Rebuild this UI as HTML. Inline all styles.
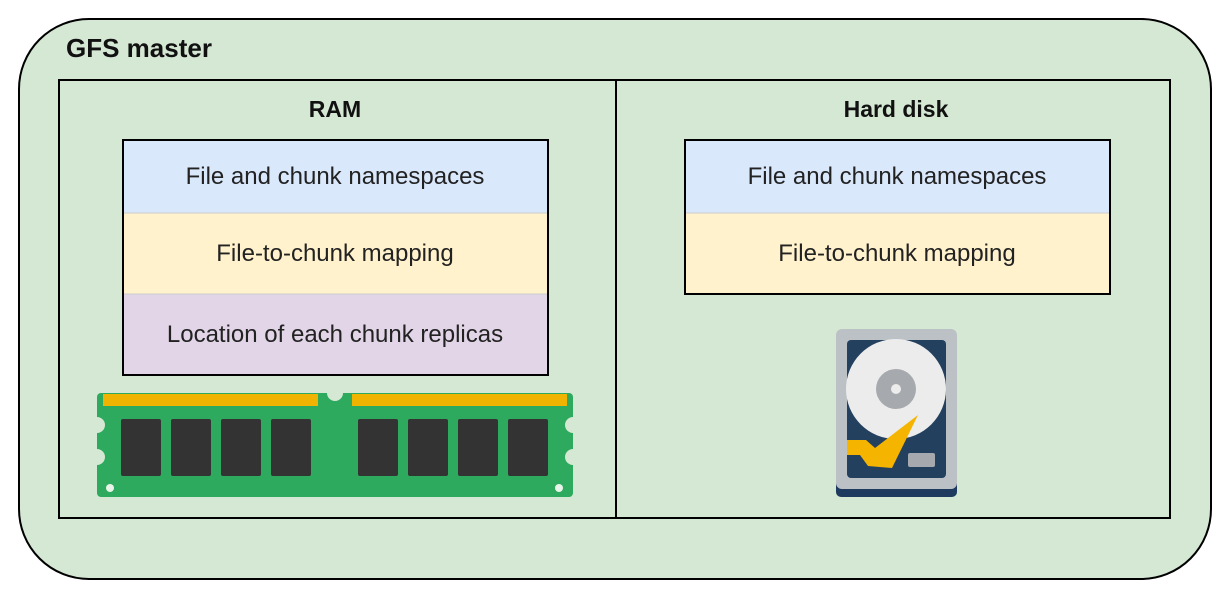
<!DOCTYPE html>
<html><head><meta charset="utf-8"><style>html,body{margin:0;padding:0;background:#fff}svg{display:block}text{font-family:"Liberation Sans",Arial,sans-serif}</style></head>
<body>
<svg width="1229" height="598" viewBox="0 0 1229 598" xmlns="http://www.w3.org/2000/svg">
<rect x="19" y="19" width="1192" height="560" rx="70" fill="#d5e8d4" stroke="#000" stroke-width="2"/>
<text x="66" y="57" font-size="26" font-weight="bold" fill="#111">GFS master</text>
<rect x="59" y="80" width="1111" height="438" fill="none" stroke="#000" stroke-width="2"/>
<line x1="616" y1="80" x2="616" y2="518" stroke="#000" stroke-width="2"/>
<text x="335" y="117" font-size="23" font-weight="bold" text-anchor="middle" fill="#111">RAM</text>
<text x="896" y="117" font-size="23" font-weight="bold" text-anchor="middle" fill="#111">Hard disk</text>
<g font-size="24" text-anchor="middle" fill="#222">
<rect x="123" y="140" width="425" height="73" fill="#dae8fc"/>
<rect x="123" y="213" width="425" height="81" fill="#fff2cc"/>
<rect x="123" y="294" width="425" height="81" fill="#e1d5e7"/>
<line x1="123" y1="213" x2="548" y2="213" stroke="#ccc"/>
<line x1="123" y1="294" x2="548" y2="294" stroke="#ccc"/>
<rect x="123" y="140" width="425" height="235" fill="none" stroke="#000" stroke-width="2"/>
<text x="335" y="184">File and chunk namespaces</text>
<text x="335" y="261">File-to-chunk mapping</text>
<text x="335" y="342">Location of each chunk replicas</text>
<rect x="685" y="140" width="425" height="73" fill="#dae8fc"/>
<rect x="685" y="213" width="425" height="81" fill="#fff2cc"/>
<line x1="685" y1="213" x2="1110" y2="213" stroke="#ccc"/>
<rect x="685" y="140" width="425" height="154" fill="none" stroke="#000" stroke-width="2"/>
<text x="897" y="184">File and chunk namespaces</text>
<text x="897" y="261">File-to-chunk mapping</text>
</g>
<!-- RAM stick -->
<rect x="97" y="393" width="476" height="104" rx="4" fill="#2eaa5e"/>
<circle cx="97" cy="425" r="8" fill="#d5e8d4"/><circle cx="97" cy="457" r="8" fill="#d5e8d4"/>
<circle cx="573" cy="425" r="8" fill="#d5e8d4"/><circle cx="573" cy="457" r="8" fill="#d5e8d4"/>
<circle cx="335" cy="393" r="8" fill="#d5e8d4"/>
<rect x="103" y="394" width="215" height="12" fill="#f0b400"/>
<rect x="352" y="394" width="215" height="12" fill="#f0b400"/>
<circle cx="110" cy="488" r="4" fill="#e8f3ea"/><circle cx="559" cy="488" r="4" fill="#e8f3ea"/>
<g fill="#333">
<rect x="121" y="419" width="40" height="57" rx="2"/><rect x="171" y="419" width="40" height="57" rx="2"/>
<rect x="221" y="419" width="40" height="57" rx="2"/><rect x="271" y="419" width="40" height="57" rx="2"/>
<rect x="358" y="419" width="40" height="57" rx="2"/><rect x="408" y="419" width="40" height="57" rx="2"/>
<rect x="458" y="419" width="40" height="57" rx="2"/><rect x="508" y="419" width="40" height="57" rx="2"/>
</g>
<!-- HDD -->
<rect x="836" y="345" width="121" height="152" rx="5" fill="#1f3a5f"/>
<rect x="836" y="329" width="121" height="160" rx="6" fill="#bcc1c6"/>
<rect x="847" y="340" width="99" height="138" rx="4" fill="#24405f"/>
<circle cx="896" cy="389" r="50" fill="#ececec"/>
<circle cx="896" cy="389" r="20" fill="#a6a9ad"/>
<circle cx="896" cy="389" r="5" fill="#ececec"/>
<path d="M847 440 L866 440 L875 448 L918 415 L892 468 L868 466 L860 455 L847 455 Z" fill="#f5b400"/>
<rect x="908" y="453" width="27" height="14" rx="2" fill="#a6a9ad"/>
</svg>
</body></html>
